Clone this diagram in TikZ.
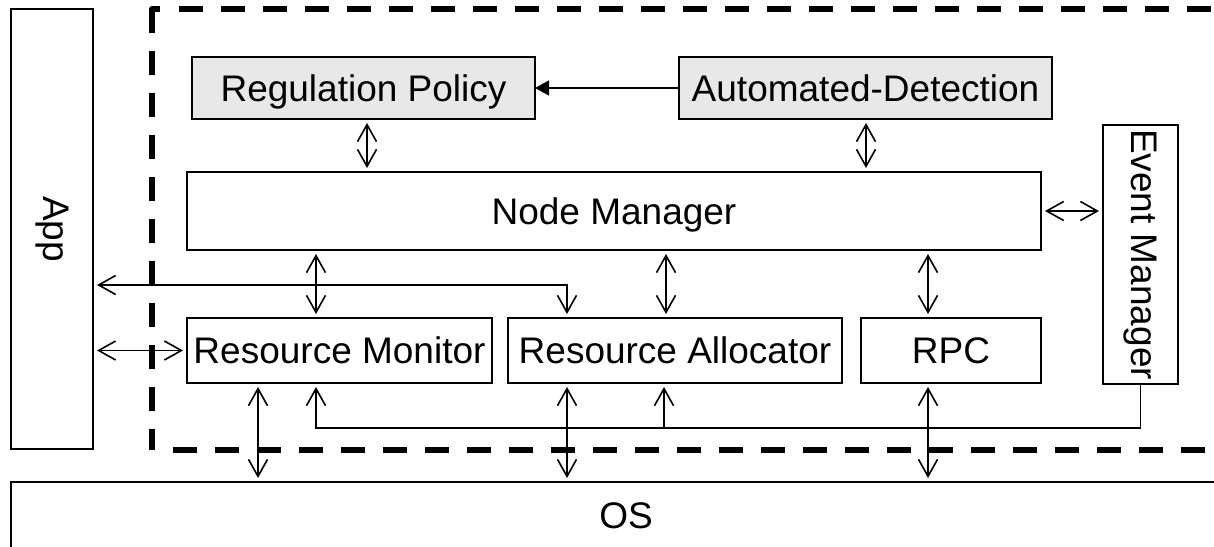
\documentclass[tikz,border=0pt]{standalone}
\usepackage{fontspec}
\setmainfont{Liberation Sans}
\usepackage{graphicx}
\usetikzlibrary{arrows.meta}

\begin{document}
\begin{tikzpicture}[x=1pt,y=-1pt,
  box/.style={draw=black, line width=1.8pt, inner sep=0pt, outer sep=0pt,
    anchor=north west, font=\fontsize{37}{40}\selectfont},
  flat/.style={box, text depth=0pt},
  shaded/.style={flat, fill=black!9},
  link/.style={line width=1.6pt,
    {Straight Barb[length=17pt,width=19pt]}-{Straight Barb[length=17pt,width=19pt]},
    shorten <=4pt, shorten >=4pt},
  feed/.style={line width=1.6pt, -{Straight Barb[length=17pt,width=19pt]},
    shorten >=4pt},
  solidtip/.style={line width=1.6pt, -{Triangle[length=14pt,width=15pt]}},
  frame/.style={line width=5.5pt, dash pattern=on 24pt off 18pt},
]
\useasboundingbox (0,0) rectangle (1214,546);
\clip (0,0) rectangle (1214,546);

% dashed boundary of the runtime
\draw[line width=5.5pt, line join=round] (152,33) -- (152,9) -- (160,9);
\draw[frame] (152,51) -- (152,450);
\draw[frame] (179,9) -- (1240,9);
\draw[frame] (173,450) -- (1240,450);

% blocks
\node[box, minimum width=82pt, minimum height=440pt] (App) at (11,9) {\rotatebox{-90}{App}};
\node[shaded, minimum width=343pt, minimum height=62pt] (RP) at (192,57) {Regulation Policy};
\node[shaded, minimum width=373pt, minimum height=62pt] (AD) at (679,57) {Automated-Detection};
\node[flat, minimum width=854pt, minimum height=78pt] (NM) at (187,172) {Node Manager};
\node[box, minimum width=75pt, minimum height=259pt] (EM) at (1103,125) {\rotatebox{-90}{Event Manager}};
\node[flat, minimum width=305pt, minimum height=65pt] (RM) at (187,318) {Resource Monitor};
\node[flat, minimum width=334pt, minimum height=65pt] (RA) at (508,318) {Resource Allocator};
\node[flat, minimum width=180pt, minimum height=65pt] (RPC) at (861,318) {RPC};
\node[flat, minimum width=1230pt, minimum height=67pt] (OS) at (11,482) {OS};

% connector columns and bends
\coordinate (xr) at (367,0);
\coordinate (xs) at (866,0);
\coordinate (xa) at (316,0);
\coordinate (xc) at (666,0);
\coordinate (xd) at (928,0);
\coordinate (xe) at (258,0);
\coordinate (xf) at (664,0);
\coordinate (k) at (567,285);
\coordinate (bus) at (0,428);

% connectors
\draw[solidtip] (AD.west) -- (RP.east);
\draw[link] (RP.south -| xr) -- (NM.north -| xr);
\draw[link] (AD.south -| xs) -- (NM.north -| xs);
\draw[link] (NM.east) -- (NM.east -| EM.west);
\draw[link] (NM.south -| xa) -- (RM.north -| xa);
\draw[link] (NM.south -| xc) -- (RA.north -| xc);
\draw[link] (NM.south -| xd) -- (RPC.north -| xd);
\draw[link] (App.east |- k) -- (k) -- (RA.north -| k);
\draw[link] (App.east |- RM.west) -- (RM.west);
\draw[link] (RM.south -| xe) -- (OS.north -| xe);
\draw[link] (RA.south -| k) -- (OS.north -| k);
\draw[link] (RPC.south -| xd) -- (OS.north -| xd);
\draw[feed] (EM.south) |- (bus -| xa) -- (RM.south -| xa);
\draw[feed] (bus -| xf) -- (RA.south -| xf);
\end{tikzpicture}
\end{document}
